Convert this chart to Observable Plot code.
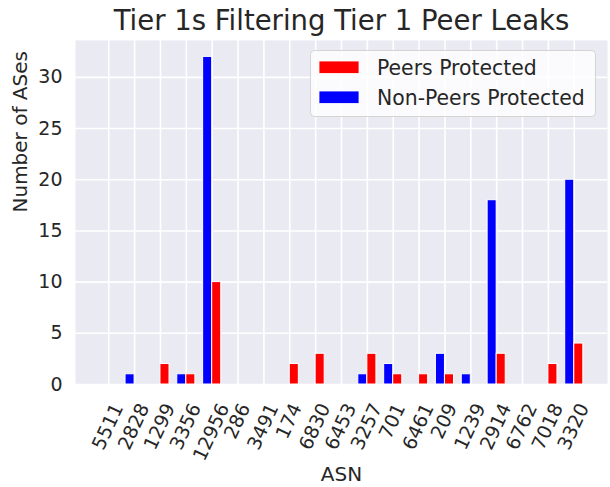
<!DOCTYPE html>
<html><head><meta charset="utf-8">
<script src="https://cdn.jsdelivr.net/npm/d3@7"></script>
<script src="https://cdn.jsdelivr.net/npm/@observablehq/plot@0.6"></script>
<style>
html,body{margin:0;padding:0;background:#fff;}
svg text{font-family:"DejaVu Sans",sans-serif;}
</style>
</head><body><div id="chart"></div>
<script>
// ---- data ----
const asns = ["5511","2828","1299","3356","12956","286","3491","174","6830","6453","3257","701","6461","209","1239","2914","6762","7018","3320"];
const peersProtected    = [0,0,2,1,10,0,0,2,3,0,3,1,1,1,0,3,0,2,4];
const nonPeersProtected = [0,1,0,1,32,0,0,0,0,0,1,2,0,3,1,18,0,0,20];
const seriesNames  = ["Peers Protected","Non-Peers Protected"];
const seriesColors = ["#ff0000","#0000ff"];
const yTicks = [0,5,10,15,20,25,30];
const titleText = "Tier 1s Filtering Tier 1 Peer Leaks";
const xLabel = "ASN";
const yLabel = "Number of ASes";

// ---- build table ----
const barWidth = 0.35;
const rows = [];
asns.forEach((a, i) => {
  rows.push({i, asn: a, series: seriesNames[1], value: nonPeersProtected[i], x1: i - barWidth, x2: i});
  rows.push({i, asn: a, series: seriesNames[0], value: peersProtected[i], x1: i, x2: i + barWidth});
});
const xLo = -barWidth, xHi = asns.length - 1 + barWidth;
const xm = 0.05 * (xHi - xLo);
const yMax = d3.max(rows, d => d.value) * 1.05;

const W = 610, H = 487, mL = 75, mR = 3, mT = 40, mB = 103;
const ink = "#262626";
const tickFs = 19, labelFs = 20, rot = 65;

// x tick labels: matplotlib-like centered rotated labels, grouped by label length
const lens = Array.from(new Set(asns.map(s => s.length)));
const tickMarks = lens.map(n => {
  const L = n * 0.636 * tickFs, a = 0.73 * tickFs, th = rot * Math.PI / 180;
  const dx = L * Math.cos(th) / 2 + a * Math.sin(th) / 2 - 1.5;
  const dy = 17 + a * Math.cos(th);
  return Plot.text(asns.map((s, i) => ({s, i})).filter(d => d.s.length === n), {
    x: "i", y: 0, text: "s", rotate: -rot, textAnchor: "end", lineAnchor: "bottom",
    dx, dy, fontSize: tickFs, fill: ink
  });
});

const chart = Plot.plot({
  width: W, height: H, marginLeft: mL, marginRight: mR, marginTop: mT, marginBottom: mB,
  style: {fontFamily: "DejaVu Sans", color: ink, background: "#fff", overflow: "visible"},
  x: {type: "linear", domain: [xLo - xm, xHi + xm], axis: null},
  y: {domain: [0, yMax], axis: null},
  color: {domain: seriesNames, range: seriesColors},
  marks: [
    Plot.frame({fill: "#EAEAF2", stroke: null}),
    Plot.gridX(d3.range(asns.length), {stroke: "#fff", strokeOpacity: 1, strokeWidth: 1.6}),
    Plot.gridY(yTicks, {stroke: "#fff", strokeOpacity: 1, strokeWidth: 1.6}),
    Plot.rect(rows.filter(d => d.value > 0), {x1: "x1", x2: "x2", y1: 0, y2: "value", fill: "series", stroke: "#fff", strokeWidth: 1}),
    Plot.axisY(yTicks, {tickSize: 0, tickPadding: 13, fontSize: tickFs, fill: ink, label: null}),
    ...tickMarks,
    Plot.text([titleText], {frameAnchor: "top", dy: -11, lineAnchor: "bottom", fontSize: 27.5, fill: ink}),
    Plot.text([yLabel], {frameAnchor: "left", dx: -55, rotate: -90, fontSize: labelFs, fill: ink}),
    Plot.text([xLabel], {frameAnchor: "bottom", dy: 96, lineAnchor: "bottom", fontSize: labelFs, fill: ink})
  ]
});

// ---- legend (inside plot, upper right) ----
const svg = d3.select(chart);
const lg = svg.append("g").attr("text-anchor", "start");
lg.append("rect").attr("x", 310.5).attr("y", 50.5).attr("width", 285).attr("height", 66)
  .attr("rx", 4).attr("fill", "#fff").attr("fill-opacity", 0.8)
  .attr("stroke", "#cccccc").attr("stroke-opacity", 0.8).attr("stroke-width", 1);
seriesNames.forEach((name, k) => {
  const y0 = 61 + k * 30;
  lg.append("rect").attr("x", 319).attr("y", y0).attr("width", 40).attr("height", 12.5)
    .attr("fill", seriesColors[k]).attr("stroke", "#fff").attr("stroke-width", 0.8);
  lg.append("text").attr("x", 377).attr("y", y0 + 13.5).attr("font-size", 20.4)
    .attr("text-anchor", "start").attr("fill", ink).text(name);
});

document.getElementById("chart").appendChild(chart);
</script>
</body></html>
